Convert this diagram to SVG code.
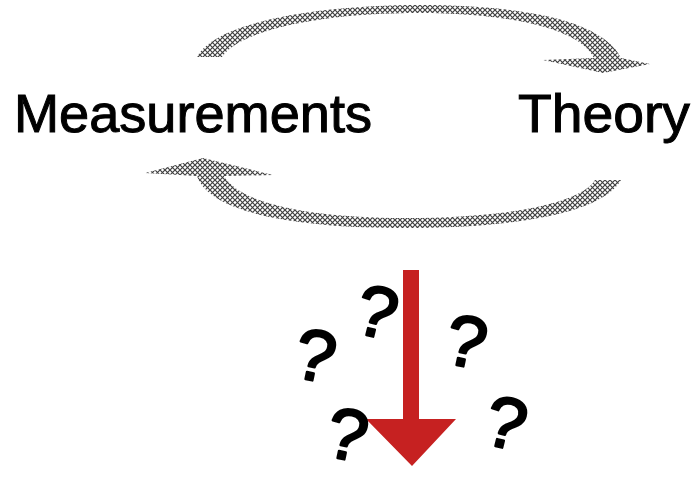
<svg xmlns="http://www.w3.org/2000/svg" width="696" height="478" viewBox="0 0 696 478">
  <style>
    .label { font-family: "Comic Sans MS", "Liberation Sans", sans-serif; font-size: 53px; fill: #000; stroke: #000; stroke-width: 1; }
    .q { font-family: "Comic Sans MS", "Liberation Sans", sans-serif; font-size: 72px; fill: #000; stroke: #000; stroke-width: 2.5; stroke-linejoin: round; text-anchor: middle; }
    .cycle { fill: url(#hatch); }
  </style>
  <defs>
    <pattern id="hatch" width="5" height="5" patternUnits="userSpaceOnUse">
      <rect width="5" height="5" fill="#ffffff"/>
      <path d="M0,0 L5,5 M5,0 L0,5" stroke="#404040" stroke-width="1.2" fill="none"/>
    </pattern>
  </defs>
  <rect width="696" height="478" fill="#ffffff"/>

  <g id="connectors">
    <path id="arrow-top" class="cycle" d="M197,57 C214,24 310,5 420,5 C528,5 604,22 621,58 L650,64 L603,73 L543,60 L594,58 C580,29 510,13 420,13 C320,13 240,30 222,57 Z"/>
    <path id="arrow-bottom" class="cycle" d="M145,173 L197,176 C210,214 300,228 405,228 C512,228 602,214 621,180 L595,180 C580,205 500,218 405,218 C312,218 240,204 224,176 L273,175 L203,158 Z"/>
    <path id="arrow-red" fill="#c62121" d="M403,270 L419,270 L419,419 L456,419 L412,466 L366,419 L403,419 Z"/>
  </g>

  <g id="node-measurements">
    <text class="label" x="14" y="132" textLength="358" lengthAdjust="spacingAndGlyphs">Measurements</text>
  </g>
  <g id="node-theory">
    <text class="label" x="518" y="132" textLength="172" lengthAdjust="spacingAndGlyphs">Theory</text>
  </g>

  <g id="questions">
    <text class="q" transform="translate(310,380) rotate(12)">?</text>
    <text class="q" transform="translate(371,336) rotate(14)">?</text>
    <text class="q" transform="translate(461,366) rotate(12)">?</text>
    <text class="q" transform="translate(342,459) rotate(12)">?</text>
    <text class="q" transform="translate(500,447) rotate(14)">?</text>
  </g>
</svg>
